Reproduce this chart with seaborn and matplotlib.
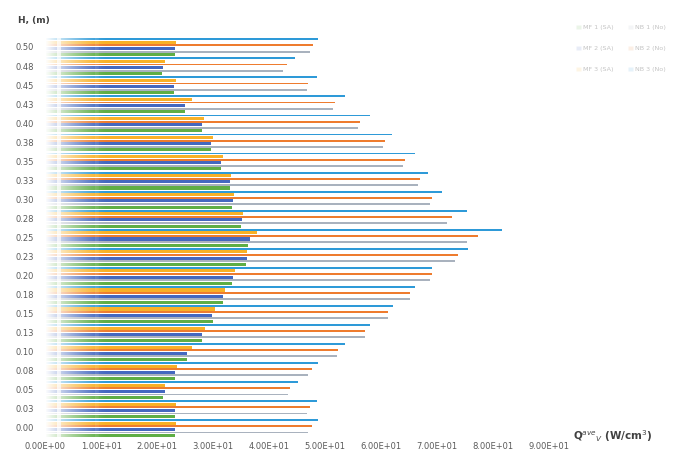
import numpy as np
import pandas as pd
import matplotlib
matplotlib.use("Agg")
import matplotlib.pyplot as plt
from matplotlib.ticker import FuncFormatter
from matplotlib.patches import Patch, Rectangle
import seaborn as sns

# ---- data (top to bottom) ----
h_labels = ["0.50", "0.48", "0.45", "0.43", "0.40", "0.38", "0.35", "0.33", "0.30", "0.28",
            "0.25", "0.23", "0.20", "0.18", "0.15", "0.13", "0.10", "0.08", "0.05", "0.03", "0.00"]

nb3 = [48.8, 44.6, 48.6, 53.6, 58.0, 62.0, 66.0, 68.4, 70.9, 75.4, 81.6, 75.5, 69.1, 66.1, 62.1, 58.0, 53.6, 48.8, 45.2, 48.6, 48.8]
nb2 = [47.9, 43.2, 47.0, 51.8, 56.3, 60.7, 64.3, 67.0, 69.1, 72.7, 77.3, 73.8, 69.1, 65.2, 61.3, 57.1, 52.3, 47.7, 43.8, 47.3, 47.7]
nb1 = [47.3, 42.5, 46.8, 51.4, 55.9, 60.4, 63.9, 66.6, 68.8, 71.8, 75.4, 73.2, 68.8, 65.2, 61.3, 57.1, 52.1, 47.0, 43.4, 46.8, 47.0]
mf3 = [23.4, 21.4, 23.3, 26.2, 28.4, 30.0, 31.8, 33.2, 33.8, 35.4, 37.9, 36.0, 33.9, 32.1, 30.4, 28.6, 26.2, 23.6, 21.4, 23.3, 23.3]
mf2 = [23.2, 21.1, 23.0, 25.0, 28.0, 29.6, 31.4, 33.0, 33.6, 35.2, 36.6, 36.0, 33.5, 31.8, 29.8, 28.0, 25.3, 23.2, 21.4, 23.2, 23.2]
mf1 = [23.2, 20.9, 23.0, 25.0, 28.0, 29.6, 31.4, 33.0, 33.4, 35.0, 36.3, 35.8, 33.4, 31.8, 30.0, 28.0, 25.3, 23.2, 21.1, 23.2, 23.2]

series_names = ["MF 1 (SA)", "MF 2 (SA)", "MF 3 (SA)", "NB 1 (No)", "NB 2 (No)", "NB 3 (No)"]
series_values = {"MF 1 (SA)": mf1, "MF 2 (SA)": mf2, "MF 3 (SA)": mf3,
                 "NB 1 (No)": nb1, "NB 2 (No)": nb2, "NB 3 (No)": nb3}
# stacking order inside a group, top to bottom
hue_order = ["NB 3 (No)", "MF 3 (SA)", "NB 2 (No)", "MF 2 (SA)", "NB 1 (No)", "MF 1 (SA)"]
colors = {"NB 3 (No)": "#2E9AD8", "MF 3 (SA)": "#F8B126", "NB 2 (No)": "#EE7C2F",
          "MF 2 (SA)": "#4468C0", "NB 1 (No)": "#A9B2BE", "MF 1 (SA)": "#5FAE45"}
x_ticks = [0, 10, 20, 30, 40, 50, 60, 70, 80, 90]

rows = []
for name in series_names:
    for h, v in zip(h_labels, series_values[name]):
        rows.append({"H": h, "Series": name, "Q": v})
df = pd.DataFrame(rows)

sns.set_theme(style="white")
plt.rcParams["font.family"] = ["DejaVu Sans"]

fig = plt.figure(figsize=(6.73, 4.51), dpi=100)
ax = fig.add_axes([0.067, 0.030, 0.749, 0.887])

sns.barplot(data=df, y="H", x="Q", hue="Series", order=h_labels, hue_order=hue_order,
            palette=colors, orient="h", width=0.97, errorbar=None, legend=False,
            saturation=1, ax=ax, linewidth=0)

# long (No) series drawn thinner, short (SA) on top
for cont, name in zip(ax.containers, hue_order):
    for p in cont.patches:
        if "(No)" in name:
            h = p.get_height()
            y = p.get_y()
            p.set_height(h * 0.6)
            p.set_y(y + h * 0.2)
            p.set_zorder(2)
        else:
            p.set_zorder(3)

ax.set_xlim(0, 90)
ax.set_ylim(len(h_labels) - 0.5, -0.5)
ax.set_xticks(x_ticks)
ax.xaxis.set_major_formatter(FuncFormatter(lambda v, _: f"{v:.2E}"))
ax.set_xlabel("")
ax.set_ylabel("")
for s in ax.spines.values():
    s.set_visible(False)
ax.tick_params(axis="x", labelsize=6, colors="#5a5a5a", length=0, pad=3)
ax.tick_params(axis="y", labelsize=6, colors="#5a5a5a", length=0, pad=8)
ax.grid(False)

# white fade at the left end of the bars
n_steps = 60
fade_end = 11.0
for i in range(n_steps):
    x0 = fade_end * i / n_steps
    a = (1 - i / n_steps) ** 1.4
    ax.add_patch(Rectangle((x0, -0.5), fade_end / n_steps + 0.02, len(h_labels),
                           facecolor="white", edgecolor="none", alpha=a, zorder=6))

fig.text(0.027, 0.955, "H, (m)", fontsize=6.5, fontweight="bold", color="#404040",
         ha="left", va="center")
fig.text(0.852, 0.033, r"Q$^{ave}$$_{V}$ (W/cm$^3$)", fontsize=7.5, fontweight="bold",
         color="#404040", ha="left", va="center")

handles = [Patch(facecolor=colors[n], alpha=0.12) for n in series_names]
leg = fig.legend(handles, series_names, ncol=2, loc="upper right",
                 bbox_to_anchor=(0.998, 0.958), frameon=False, fontsize=4.6,
                 labelcolor="#c4c4c4", handlelength=0.8, handleheight=0.6,
                 columnspacing=2.2, labelspacing=2.5, handletextpad=0.3)

fig.savefig("out.png", dpi=100, facecolor="white")
